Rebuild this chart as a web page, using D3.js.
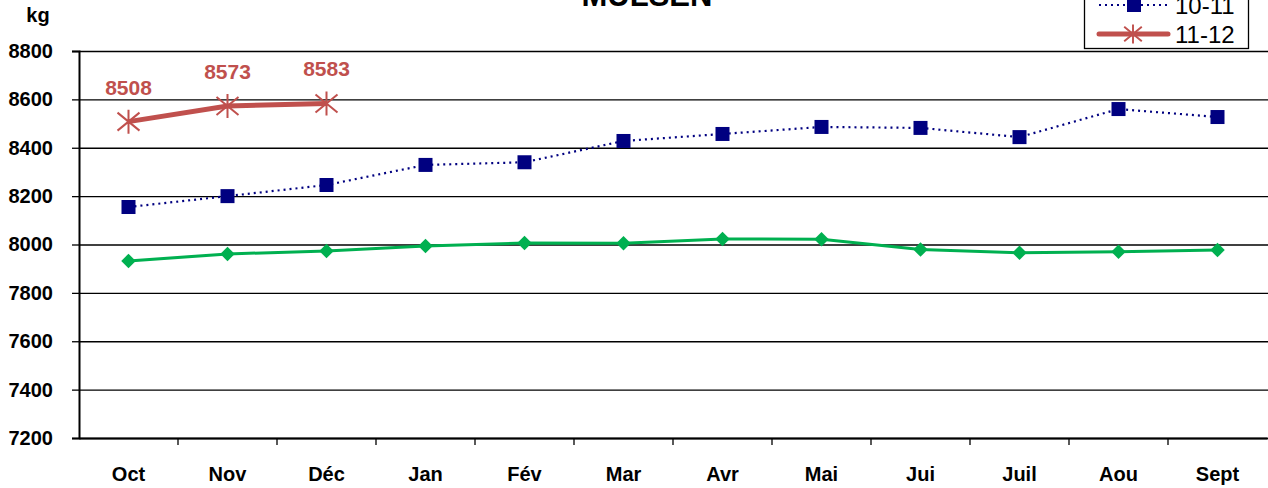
<!DOCTYPE html>
<html>
<head>
<meta charset="utf-8">
<script src="https://cdn.jsdelivr.net/npm/d3@7"></script>
<style>
  body { margin: 0; background: #fff; }
  svg { display: block; font-family: "Liberation Sans", Arial, sans-serif; }
</style>
</head>
<body>
<svg width="1268" height="488"></svg>
<script>
// Données
const mois = ["Oct", "Nov", "Déc", "Jan", "Fév", "Mar", "Avr", "Mai", "Jui", "Juil", "Aou", "Sept"];
const graduations = [7200, 7400, 7600, 7800, 8000, 8200, 8400, 8600, 8800];

const serieVerte = [7932, 7961, 7973, 7994, 8006, 8005, 8023, 8022, 7979, 7966, 7970, 7977];
const serie1011 = [8155, 8200, 8246, 8329, 8340, 8428, 8457, 8486, 8482, 8444, 8560, 8527];
const serie1112 = [8508, 8573, 8583];

const svg = d3.select("svg");

// Echelles
const x = d3.scaleBand().domain(mois).range([79, 1267]).padding(0);
const y = d3.scaleLinear().domain([7200, 8800]).range([438, 51]);
const cx = m => x(m) + x.bandwidth() / 2;

// Titre (coupé en haut)
svg.append("text")
    .text("MULSEN")
    .attr("x", 647).attr("y", 6)
    .attr("text-anchor", "middle")
    .style("font-size", "31px").style("font-weight", "bold");

// Unité
svg.append("text")
    .text("kg")
    .attr("x", 38).attr("y", 22)
    .attr("text-anchor", "middle")
    .style("font-size", "20px").style("font-weight", "bold");

// Quadrillage
svg.append("g")
    .attr("transform", "translate(79,0)")
    .call(d3.axisLeft(y).tickValues(graduations).tickSize(-1189).tickFormat(""))
    .call(g => g.select(".domain").remove())
    .call(g => g.selectAll("line").attr("stroke", "#000").attr("stroke-width", 1.3));

// Axe y
svg.append("g")
    .attr("transform", "translate(79,0)")
    .call(d3.axisLeft(y).tickValues(graduations).tickSize(7).tickPadding(19).tickFormat(d3.format("d")))
    .call(g => g.select(".domain").attr("stroke-width", 2))
    .call(g => g.selectAll("line").attr("stroke-width", 1.3))
    .call(g => g.selectAll("text")
        .style("font-size", "20px").style("font-weight", "bold")
        .style("font-family", "'Liberation Sans', Arial, sans-serif"));

// Axe x
svg.append("g")
    .attr("transform", "translate(0,438)")
    .call(d3.axisBottom(x).tickSize(0).tickPadding(29))
    .call(g => g.select(".domain").attr("stroke-width", 2))
    .call(g => g.selectAll("text")
        .style("font-size", "20px").style("font-weight", "bold")
        .style("font-family", "'Liberation Sans', Arial, sans-serif"));

// Petites graduations entre les mois
svg.append("g")
    .selectAll("line")
    .data(mois.slice(0, -1))
    .enter()
    .append("line")
    .attr("x1", d => x(d) + x.bandwidth())
    .attr("x2", d => x(d) + x.bandwidth())
    .attr("y1", 438).attr("y2", 445)
    .attr("stroke", "#000").attr("stroke-width", 1.3);

const ligne = d3.line().x(d => cx(d.m)).y(d => y(d.v));
const pts = vals => vals.map((v, i) => ({ m: mois[i], v: v }));

// Série verte
svg.append("path")
    .datum(pts(serieVerte))
    .attr("d", ligne)
    .attr("fill", "none").attr("stroke", "#00B050").attr("stroke-width", 3);
svg.append("g")
    .selectAll("path")
    .data(pts(serieVerte))
    .enter()
    .append("path")
    .attr("d", d3.symbol(d3.symbolSquare, 105))
    .attr("transform", d => `translate(${cx(d.m)},${y(d.v)}) rotate(45)`)
    .attr("fill", "#00B050");

// Série 10-11
svg.append("path")
    .datum(pts(serie1011))
    .attr("d", ligne)
    .attr("fill", "none").attr("stroke", "#000080").attr("stroke-width", 2.2)
    .attr("stroke-dasharray", "2,4");
svg.append("g")
    .selectAll("rect")
    .data(pts(serie1011))
    .enter()
    .append("rect")
    .attr("x", d => cx(d.m) - 7).attr("y", d => y(d.v) - 7)
    .attr("width", 14).attr("height", 14)
    .attr("fill", "#000080");

// Série 11-12
const etoile = "M-11,-9L11,9M-11,9L11,-9M0,-12L0,12";
svg.append("path")
    .datum(pts(serie1112))
    .attr("d", ligne)
    .attr("fill", "none").attr("stroke", "#C0504D").attr("stroke-width", 5);
svg.append("g")
    .selectAll("path")
    .data(pts(serie1112))
    .enter()
    .append("path")
    .attr("d", etoile)
    .attr("transform", d => `translate(${cx(d.m)},${y(d.v)})`)
    .attr("stroke", "#C0504D").attr("stroke-width", 2).attr("fill", "none");
svg.append("g")
    .selectAll("text")
    .data(pts(serie1112))
    .enter()
    .append("text")
    .text(d => d.v)
    .attr("x", d => cx(d.m)).attr("y", d => y(d.v) - 27)
    .attr("text-anchor", "middle")
    .attr("fill", "#C0504D")
    .style("font-size", "21px").style("font-weight", "bold");

// Légende (coupée en haut comme l'original)
const legende = svg.append("g");
legende.append("rect")
    .attr("x", 1084.5).attr("y", -60).attr("width", 164).attr("height", 108.5)
    .attr("fill", "#fff").attr("stroke", "#000").attr("stroke-width", 1.3);

const lignesLegende = [
    { nom: "10-11", yy: 5 },
    { nom: "11-12", yy: 34 }
];
lignesLegende.forEach(l => {
    const rouge = l.nom === "11-12";
    const col = rouge ? "#C0504D" : "#000080";
    legende.append("line")
        .attr("x1", 1099).attr("x2", 1168).attr("y1", l.yy).attr("y2", l.yy)
        .attr("stroke", col).attr("stroke-width", rouge ? 5 : 2.2)
        .attr("stroke-linecap", rouge ? "round" : "butt")
        .attr("stroke-dasharray", rouge ? null : "2,4");
    if (!rouge) {
        legende.append("rect").attr("x", 1127).attr("y", l.yy - 7)
            .attr("width", 14).attr("height", 14).attr("fill", col);
    } else {
        legende.append("path").attr("d", etoile)
            .attr("transform", `translate(1133,${l.yy}) scale(0.8)`)
            .attr("stroke", col).attr("stroke-width", 2.4).attr("fill", "none");
    }
    legende.append("text")
        .text(l.nom)
        .attr("x", 1175).attr("y", l.yy + 9)
        .style("font-size", "24px");
});
</script>
</body>
</html>
